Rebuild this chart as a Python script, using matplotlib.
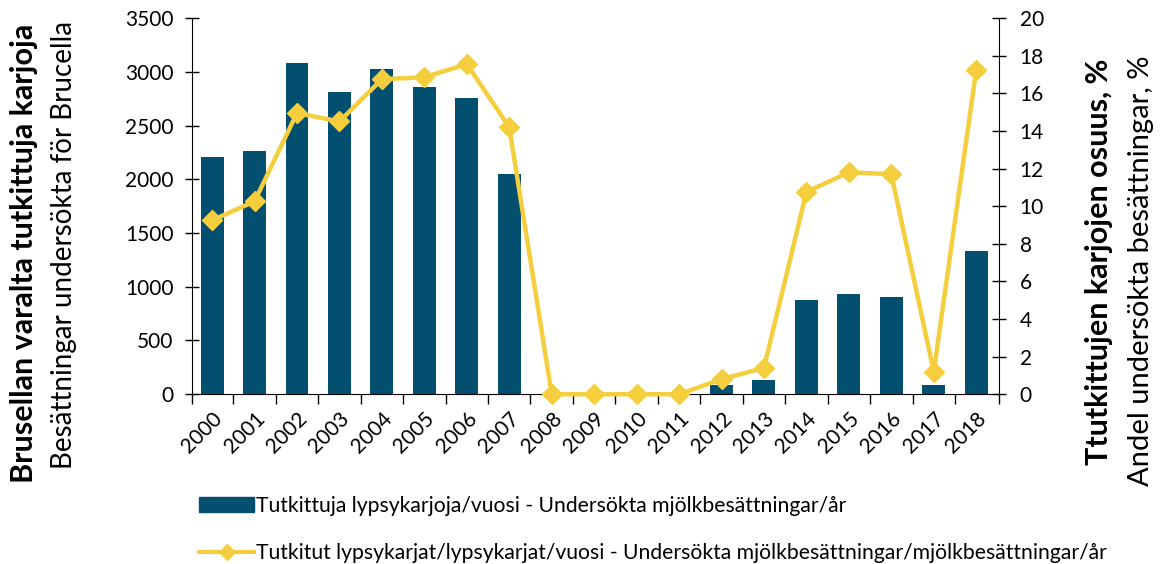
import matplotlib
matplotlib.use('Agg')
import matplotlib.pyplot as plt
from matplotlib.lines import Line2D
from matplotlib.patches import Patch
import numpy as np

plt.rcParams['font.family'] = ['Lato', 'DejaVu Sans']

years = ['2000', '2001', '2002', '2003', '2004', '2005', '2006', '2007', '2008', '2009',
         '2010', '2011', '2012', '2013', '2014', '2015', '2016', '2017', '2018']
herds = [2205, 2260, 3080, 2810, 3030, 2860, 2755, 2045, 0, 0,
         0, 0, 90, 130, 875, 930, 905, 90, 1330]
share = [9.25, 10.25, 14.95, 14.5, 16.75, 16.85, 17.55, 14.2, 0, 0,
         0, 0, 0.8, 1.4, 10.75, 11.8, 11.7, 1.2, 17.25]

bar_col = '#024F6F'
line_col = '#F5CE3E'

fig = plt.figure(figsize=(11.64, 5.64), dpi=100)
ax = fig.add_axes([0.1647, 0.301, 0.6933, 0.667])
x = np.arange(len(years))
ax.bar(x, herds, width=0.54, color=bar_col, zorder=2)
x0, x1 = -0.48, 18.53
ax.set_xlim(x0, x1)
ax.set_ylim(0, 3500)
ax.set_yticks(range(0, 3501, 500))
ax.set_xticks(x)
ax.set_xticklabels(years, rotation=45, ha='right', rotation_mode='anchor', fontsize=15)
ax.set_xticks([x0] + list(np.arange(0.5, 18, 1)) + [x1], minor=True)
ax.tick_params(axis='x', which='major', length=0, pad=10)
ax.tick_params(axis='x', which='minor', length=7, direction='out', width=1)
ax.tick_params(axis='y', direction='inout', length=10, labelsize=15, width=1, pad=8)
for s in ['top', 'right']:
    ax.spines[s].set_visible(False)

ax2 = ax.twinx()
ax2.plot(x, share, color=line_col, lw=3.2, marker='D', ms=10.5, zorder=3, clip_on=False)
ax2.set_ylim(0, 20)
ax2.set_yticks(range(0, 21, 2))
ax2.tick_params(axis='y', direction='inout', length=10, labelsize=15, width=1, pad=10)
for s in ['top', 'left', 'bottom']:
    ax2.spines[s].set_visible(False)

fig.text(0.021, 0.55, 'Brusellan varalta tutkittuja karjoja', rotation=90, va='center', ha='center',
         fontsize=22, fontweight='bold')
fig.text(0.055, 0.565, 'Besättningar undersökta för Brucella', rotation=90, va='center', ha='center',
         fontsize=20)
fig.text(0.944, 0.535, 'Ttutkittujen karjojen osuus, %', rotation=90, va='center', ha='center',
         fontsize=22, fontweight='bold')
fig.text(0.98, 0.52, 'Andel undersökta besättningar, %', rotation=90, va='center', ha='center',
         fontsize=21)

handles = [Patch(color=bar_col),
           Line2D([], [], color=line_col, lw=3, marker='D', ms=8)]
labels = ['Tutkittuja lypsykarjoja/vuosi - Undersökta mjölkbesättningar/år',
          'Tutkitut lypsykarjat/lypsykarjat/vuosi - Undersökta mjölkbesättningar/mjölkbesättningar/år']
fig.legend(handles, labels, loc='upper left', bbox_to_anchor=(0.155, 0.155), frameon=False,
           fontsize=15.2, labelspacing=1.3, handlelength=2.6, handletextpad=0.1)

fig.savefig('out.png', dpi=100)
